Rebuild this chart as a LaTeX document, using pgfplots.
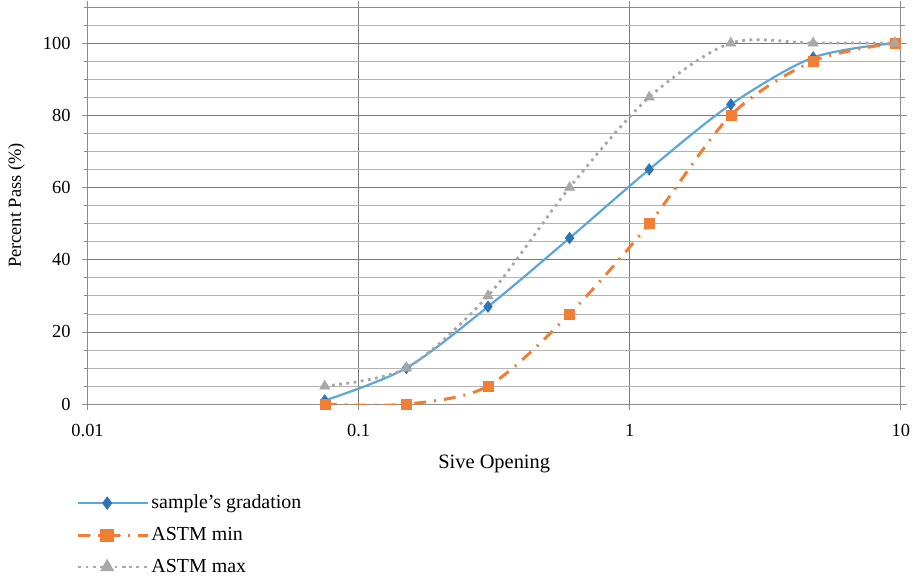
\documentclass[border=0pt]{standalone}
\usepackage{fontspec}
\setmainfont{Liberation Serif}
\usepackage{pgfplots}
\pgfplotsset{compat=1.18}
\definecolor{sblue}{HTML}{5BA7DA}
\definecolor{sbluemark}{HTML}{2E75B6}
\definecolor{sorange}{HTML}{F07F35}
\definecolor{sgray}{HTML}{A8A8A8}
\begin{document}
\fontsize{18}{21}\selectfont
\begin{tikzpicture}
\begin{axis}[
  name=ax,
  scale only axis,
  width=817pt, height=399pt,
  xmode=log, log basis x=10,
  xmin=0.01, xmax=10,
  ymin=0, ymax=110,
  ytick={0,20,40,60,80,100},
  minor ytick={5,10,15,25,30,35,45,50,55,65,70,75,85,90,95,105,110},
  xtick={0.01,0.1,1,10},
  xticklabels={0.01,0.1,1,10},
  log ticks with fixed point,
  grid=both,
  major grid style={draw=black!52, line width=0.8pt},
  minor grid style={draw=black!30, line width=0.7pt},
  axis line style={draw=black!45, line width=0.8pt},
  tick style={draw=black!45, line width=0.8pt},
  tick align=outside,
  major tick length=6pt,
  minor tick length=4pt,
  /pgf/number format/assume math mode=true,
  ticklabel style={font=\fontsize{18.5}{21}\selectfont},
  xticklabel style={yshift=-8pt},
  yticklabel style={xshift=-5pt},
  xlabel={Sive Opening},
  ylabel={Percent Pass (\%)},
  xlabel style={font=\fontsize{20.5}{23}\selectfont, yshift=-6pt},
  ylabel style={font=\fontsize{18.5}{21}\selectfont, yshift=6pt},
  legend cell align=left,
  legend style={at={(axis description cs:0,0)}, anchor=north west,
    xshift=-14pt, yshift=-87pt, draw=none, fill=none,
    font=\fontsize{20}{23}\selectfont, row sep=12pt},
  legend image code/.code={%
    \path (0pt,0pt) -- (70pt,0pt);
    \draw[mark repeat=2,mark phase=2,#1,line width=1.2pt,every mark/.append style={scale=1.3}] plot coordinates {(0pt,0pt) (29pt,0pt) (58pt,0pt)};},
]
\addplot[sblue, line width=2.2pt, smooth, tension=0.5,
  mark=diamond*, mark size=4.5pt, mark options={solid, fill=sbluemark, draw=sbluemark}]
  coordinates {(0.075,1) (0.15,10) (0.3,27) (0.6,46) (1.18,65) (2.36,83) (4.75,96) (9.5,100)};
\addlegendentry{sample's gradation}
\addplot[sorange, line width=3pt, smooth, tension=0.5,
  dash pattern=on 12pt off 8pt on 2pt off 8pt,
  mark=square*, mark size=5pt, mark options={solid, fill=sorange, draw=sorange, line width=0.5pt}]
  coordinates {(0.075,0) (0.15,0) (0.3,5) (0.6,25) (1.18,50) (2.36,80) (4.75,95) (9.5,100)};
\addlegendentry{ASTM min}
\addplot[sgray, line width=2.8pt, smooth, tension=0.5,
  dash pattern=on 2.8pt off 4.5pt,
  mark=triangle*, mark size=6pt, mark options={solid, fill=sgray, draw=sgray, line width=0.5pt}]
  coordinates {(0.075,5) (0.15,10) (0.3,30) (0.6,60) (1.18,85) (2.36,100) (4.75,100) (9.5,100)};
\addlegendentry{ASTM max}
\coordinate (o) at (rel axis cs:0,0);
\end{axis}
\path (o) ++(-88pt,-172pt) rectangle ++(916pt,578pt);
\end{tikzpicture}
\end{document}
